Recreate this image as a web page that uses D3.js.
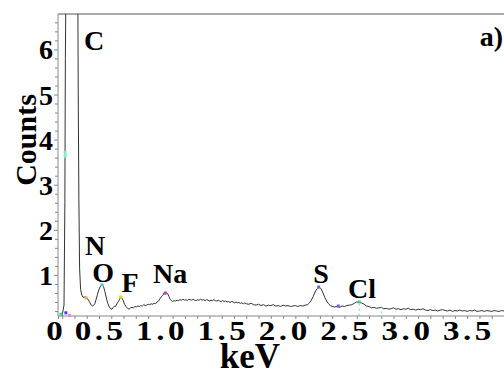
<!DOCTYPE html>
<html><head><meta charset="utf-8">
<script src="https://cdn.jsdelivr.net/npm/d3@7"></script>
<style>
html,body{margin:0;padding:0;background:#fff;}
svg{display:block;}
</style></head>
<body>
<svg id="chart" width="504" height="376"></svg>
<script>
// ---- data: EDS spectrum [keV, counts] ----
const spectrum = [
[0.199,0.09],[0.215,0.33],[0.222,2.6],[0.226,5.8],[0.230,7.2],[0.25,11],[0.28,14],[0.31,11],
[0.328,7.0],[0.331,4.9],[0.336,2.7],[0.342,1.15],[0.350,0.68],[0.360,0.55],[0.370,0.51],[0.378,0.50],
[0.386,0.52],[0.394,0.50],[0.403,0.47],[0.411,0.46],[0.419,0.42],[0.427,0.38],[0.437,0.33],[0.445,0.31],
[0.455,0.32],[0.466,0.36],[0.476,0.45],[0.488,0.57],[0.500,0.68],[0.512,0.75],[0.525,0.78],[0.537,0.74],
[0.548,0.63],[0.560,0.49],[0.572,0.37],[0.584,0.29],[0.596,0.25],[0.606,0.24],[0.616,0.28],[0.626,0.31],
[0.636,0.30],[0.646,0.36],[0.658,0.41],[0.668,0.46],[0.678,0.51],[0.688,0.48],[0.698,0.43],[0.708,0.35],
[0.720,0.30],[0.732,0.26],[0.745,0.24],[0.757,0.27],[0.769,0.28],[0.781,0.27],[0.793,0.30],[0.805,0.29],
[0.817,0.31],[0.829,0.30],[0.841,0.32],[0.853,0.31],[0.865,0.34],[0.877,0.32],[0.889,0.33],[0.901,0.35],
[0.913,0.34],[0.925,0.36],[0.937,0.35],[0.949,0.37],[0.961,0.36],[0.973,0.40],[0.985,0.42],[0.997,0.47],
[1.009,0.52],[1.021,0.55],[1.030,0.60],[1.040,0.57],[1.050,0.61],[1.060,0.58],[1.070,0.52],[1.080,0.46],
[1.090,0.43],[1.100,0.41],[1.112,0.43],[1.124,0.42],[1.136,0.44],[1.148,0.43],[1.160,0.45],[1.172,0.44],
[1.184,0.46],[1.196,0.44],[1.208,0.45],[1.220,0.43],[1.232,0.46],[1.244,0.45],[1.256,0.44],[1.268,0.46],
[1.280,0.44],[1.292,0.43],[1.304,0.45],[1.316,0.44],[1.328,0.46],[1.340,0.44],[1.352,0.45],[1.364,0.43],
[1.376,0.45],[1.388,0.44],[1.400,0.42],[1.412,0.44],[1.424,0.43],[1.436,0.45],[1.448,0.43],[1.460,0.42],
[1.472,0.44],[1.484,0.42],[1.496,0.41],[1.508,0.43],[1.520,0.41],[1.532,0.42],[1.544,0.40],[1.556,0.41],
[1.568,0.39],[1.580,0.41],[1.592,0.40],[1.604,0.38],[1.616,0.40],[1.628,0.38],[1.640,0.39],[1.652,0.37],
[1.664,0.38],[1.676,0.36],[1.688,0.38],[1.700,0.36],[1.72,0.35],[1.74,0.37],[1.76,0.34],[1.78,0.33],
[1.80,0.35],[1.82,0.32],[1.84,0.34],[1.86,0.31],[1.88,0.33],[1.90,0.32],[1.92,0.34],[1.94,0.31],
[1.96,0.32],[1.98,0.30],[2.00,0.33],[2.02,0.31],[2.04,0.32],[2.06,0.30],[2.08,0.31],[2.10,0.32],
[2.12,0.30],[2.14,0.32],[2.16,0.31],[2.18,0.33],[2.20,0.34],[2.215,0.38],[2.23,0.44],[2.245,0.52],
[2.26,0.62],[2.275,0.69],[2.29,0.73],[2.30,0.72],[2.31,0.69],[2.325,0.60],[2.34,0.50],[2.355,0.42],
[2.37,0.36],[2.385,0.32],[2.40,0.30],[2.42,0.29],[2.44,0.30],[2.46,0.28],[2.48,0.31],[2.50,0.30],
[2.52,0.32],[2.54,0.33],[2.56,0.34],[2.58,0.37],[2.60,0.40],[2.62,0.39],[2.64,0.38],[2.66,0.35],
[2.68,0.31],[2.70,0.30],[2.72,0.27],[2.74,0.28],[2.76,0.26],[2.78,0.27],[2.80,0.28],[2.82,0.25],
[2.84,0.26],[2.86,0.24],[2.88,0.25],[2.90,0.27],[2.92,0.24],[2.94,0.25],[2.96,0.23],[2.98,0.25],
[3.00,0.24],[3.02,0.26],[3.04,0.23],[3.06,0.24],[3.08,0.22],[3.10,0.24],[3.12,0.23],[3.14,0.25],
[3.16,0.22],[3.18,0.21],[3.20,0.23],[3.22,0.21],[3.24,0.22],[3.26,0.20],[3.28,0.22],[3.30,0.23],
[3.32,0.21],[3.34,0.20],[3.36,0.22],[3.38,0.19],[3.40,0.21],[3.42,0.20],[3.44,0.22],[3.46,0.20],
[3.48,0.21],[3.50,0.19],[3.52,0.21],[3.54,0.20],[3.56,0.22],[3.58,0.19],[3.60,0.20],[3.62,0.21],
[3.64,0.19],[3.66,0.21],[3.68,0.20],[3.70,0.19],[3.72,0.21],[3.74,0.20],[3.76,0.19],[3.78,0.21],[3.80,0.20]
];

// element labels
const elementNames  = ["C", "N", "O", "F", "Na", "S", "Cl"];
const elementKeV    = [0.46, 0.468, 0.533, 0.753, 1.079, 2.31, 2.644];
const elementCounts = [5.99, 1.44, 0.84, 0.62, 0.82, 0.82, 0.49];

// small coloured element markers: [keV, counts, colour]
const markers = [
  [0.394,0.49,"#f0a060"],[0.525,0.78,"#40c8c8"],[0.677,0.51,"#e8d800"],
  [1.04,0.60,"#c040c0"],[2.29,0.73,"#6060ff"],[2.45,0.31,"#6060ff"],
  [2.62,0.40,"#40d090"],[0.19,0.13,"#40d090"],[0.23,0.16,"#4040ff"],[0.26,0.10,"#f090b0"]
];
// short marker lines: [keV, top counts, colour]
const markerLines = [[2.62,0.36,"#60e0a0"],[2.80,0.30,"#60e0a0"]];

const xTickValues = [0.166, 0.5, 1.0, 1.5, 2.0, 2.5, 3.0, 3.5];
const xTickLabels = ["0", "0.5", "1.0", "1.5", "2.0", "2.5", "3.0", "3.5"];
const yTickValues = [1, 2, 3, 4, 5, 6];

// ---- layout ----
const svg = d3.select("#chart");
const L = 58, R = 504, T = 14, B = 316;
const FONT = "'Liberation Serif','Times New Roman',Times,serif";

const x = d3.scaleLinear().domain([0.166, 3.80]).range([L, R]);
const y = d3.scaleLinear().domain([0.089, 6.785]).range([B, T]);

function styleText(sel, size) {
  sel.style("font-family", FONT).style("font-weight", "700")
     .style("font-size", size + "px").style("fill", "#000");
  return sel;
}

svg.append("defs").append("clipPath").attr("id","clip")
  .append("rect").attr("x",L).attr("y",T).attr("width",R-L).attr("height",B-T);

// top border
svg.append("line").attr("x1",L).attr("x2",R).attr("y1",T).attr("y2",T)
  .attr("stroke","#aaa").attr("stroke-width",2);

// y axis
const yMinor = d3.range(0.2, 6.79, 0.2).filter(v => Math.abs(v - Math.round(v)) > 0.01);
const gy = svg.append("g").attr("transform",`translate(${L},0)`)
  .call(d3.axisLeft(y).tickValues(yMinor).tickSize(3).tickFormat(""));
gy.select(".domain").remove();
gy.selectAll("line").attr("stroke","#888");

const gy2 = svg.append("g").attr("transform",`translate(${L},0)`)
  .call(d3.axisLeft(y).tickValues(yTickValues).tickSize(4).tickPadding(1).tickFormat(d3.format("d")));
gy2.attr("font-family", null).attr("font-size", null);
gy2.select(".domain").attr("stroke","#888").attr("d",`M0,${T}V${B}`);
gy2.selectAll("line").attr("stroke","#888");
styleText(gy2.selectAll("text"), 28).attr("dy","0.34em");

// x axis
const xMinor = d3.range(0.2, 3.81, 0.1).filter(v => Math.abs(v*2 - Math.round(v*2)) > 0.01);
const gx = svg.append("g").attr("transform",`translate(0,${B})`)
  .call(d3.axisBottom(x).tickValues(xMinor).tickSize(3).tickFormat(""));
gx.select(".domain").remove();
gx.selectAll("line").attr("stroke","#888");

const gx2 = svg.append("g").attr("transform",`translate(0,${B})`)
  .call(d3.axisBottom(x).tickValues(xTickValues).tickSize(3).tickPadding(1)
    .tickFormat((d,i) => xTickLabels[i]));
gx2.attr("font-family", null).attr("font-size", null);
gx2.select(".domain").attr("stroke","#888").attr("d",`M${L},0H${R}`);
gx2.selectAll("line").attr("stroke","#888");
styleText(gx2.selectAll("text"), 28).style("letter-spacing","3px")
  .attr("dy","0.72em").attr("dx", (d,i) => i === 0 ? -2 : 1)
  .attr("transform","scale(1.18,1)");

// spectrum line
svg.append("path").datum(spectrum)
  .attr("clip-path","url(#clip)")
  .attr("fill","none").attr("stroke","#333").attr("stroke-width",1)
  .attr("d", d3.line().x(d => x(d[0])).y(d => y(d[1])));

// markers
svg.append("g").selectAll("line").data(markerLines).join("line")
  .attr("x1", d => x(d[0])).attr("x2", d => x(d[0]))
  .attr("y1", d => y(d[1])).attr("y2", B)
  .attr("stroke", d => d[2]).attr("stroke-width",1).attr("stroke-dasharray","2,3");
svg.append("g").selectAll("rect").data(markers).join("rect")
  .attr("x", d => x(d[0]) - 1.5).attr("y", d => y(d[1]) - 1.5)
  .attr("width",3).attr("height",3).attr("fill", d => d[2]);
svg.append("rect").attr("x", x(0.224)-1.5).attr("y", y(3.75)).attr("width",3)
  .attr("height", y(3.6)-y(3.75)).attr("fill","#90e8c0");

// element labels
styleText(svg.append("g").selectAll("text").data(elementNames).join("text")
  .attr("x", (d,i) => x(elementKeV[i])).attr("y", (d,i) => y(elementCounts[i]))
  .attr("text-anchor","middle").text(d => d), 28);

// panel label
styleText(svg.append("text").attr("x",503).attr("y",46).attr("text-anchor","end").text("a)"), 28);

// axis titles
styleText(svg.append("text").attr("x",250).attr("y",368).attr("text-anchor","middle").text("keV"), 35);
styleText(svg.append("text").attr("transform","translate(36,140) rotate(-90)")
  .attr("text-anchor","middle").text("Counts"), 30);
</script>
</body></html>
